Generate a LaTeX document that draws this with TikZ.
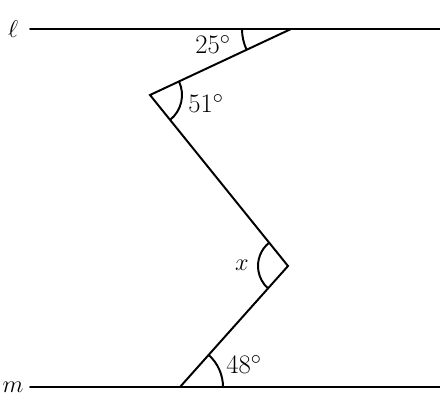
\documentclass[tikz,border=0pt]{standalone}
\usepackage{tikz}
\usetikzlibrary{calc,positioning}
\tikzset{
    seg/.style={line width=1.4pt, line cap=round},
    ang/.style={line width=1.4pt},
    lbl/.style={font=\fontsize{19}{22}\selectfont}
}

\begin{document}
\begin{tikzpicture}[x=0.025cm,y=-0.025cm]
\useasboundingbox (0,0) rectangle (440,409);

\coordinate (l1) at (30,29);
\coordinate (l2) at (440,29);
\coordinate (m1) at (30,387);
\coordinate (m2) at (440,387);
\coordinate (T) at (291,29);
\coordinate (L) at (150,95);
\coordinate (R) at (288,266);
\coordinate (B) at (180,387);

\draw [seg] (l1) -- (l2);
\draw [seg] (m1) -- (m2);
\draw [seg] (T) -- (L) -- (R) -- (B);

\node [lbl] (ell) at (13,29) {$\ell$};
\node [lbl] (em) at (13,387) {$m$};

% angle arcs (y axis points down, so angles are mirrored)
\draw [ang] ($(T)+(180:49)$) arc[start angle=180, end angle=155, radius=49];
\draw [ang] ($(L)+(-25:32)$) arc[start angle=-25, end angle=51, radius=32];
\draw [ang] ($(R)+(-129:30)$) arc[start angle=-129, end angle=-228, radius=30];
\draw [ang] ($(B)+(0:43)$) arc[start angle=0, end angle=-48, radius=43];

\node [lbl] (a25) at (213,45) {25$^\circ$};
\node [lbl] (a51) at (206,104) {51$^\circ$};
\node [lbl] (ax) at (242,265) {$x$};
\node [lbl] (a48) at (244,365) {48$^\circ$};

\end{tikzpicture}
\end{document}
